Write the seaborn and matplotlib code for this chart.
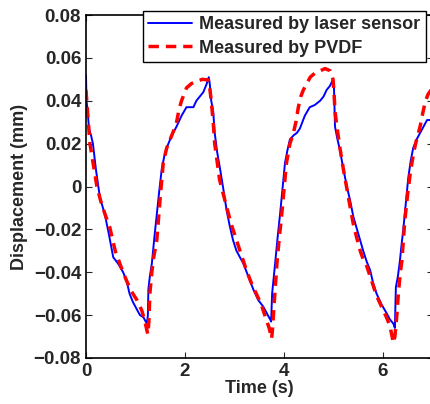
import numpy as np
import pandas as pd
import matplotlib
matplotlib.use("Agg")
import matplotlib.pyplot as plt
import matplotlib.ticker as mticker
import seaborn as sns

# --- data (time in s, displacement in mm) ---
laser_t = [0.00, 0.01, 0.03, 0.06, 0.10, 0.14, 0.20, 0.28, 0.38, 0.46, 0.55, 0.65,
           0.75, 0.82, 0.88, 0.95, 1.02, 1.09, 1.16, 1.23, 1.25, 1.26, 1.29, 1.33,
           1.38, 1.43, 1.48, 1.53, 1.58, 1.63, 1.70, 1.76, 1.83, 1.93, 2.03, 2.10,
           2.17, 2.23, 2.30, 2.37, 2.44, 2.48, 2.50, 2.53, 2.57, 2.60, 2.65, 2.71,
           2.78, 2.84, 2.90, 2.97, 3.04, 3.11, 3.18, 3.28, 3.38, 3.48, 3.58, 3.65,
           3.72, 3.74, 3.76, 3.79, 3.82, 3.87, 3.92, 3.97, 4.02, 4.07, 4.12, 4.20,
           4.26, 4.32, 4.42, 4.52, 4.62, 4.73, 4.80, 4.86, 4.93, 4.99, 5.01, 5.03,
           5.08, 5.13, 5.20, 5.27, 5.34, 5.40, 5.50, 5.60, 5.67, 5.74, 5.80, 5.87,
           5.97, 6.07, 6.14, 6.21, 6.24, 6.26, 6.30, 6.34, 6.38, 6.41, 6.46, 6.51,
           6.56, 6.61, 6.68, 6.75, 6.82, 6.89, 6.95, 7.00]
laser_d = [0.052, 0.040, 0.036, 0.027, 0.024, 0.020, 0.008, -0.005, -0.013, -0.022, -0.033, -0.036,
           -0.040, -0.044, -0.050, -0.054, -0.057, -0.060, -0.061, -0.064, -0.060, -0.048, -0.042, -0.036,
           -0.024, -0.013, -0.002, 0.008, 0.014, 0.018, 0.022, 0.025, 0.028, 0.033, 0.037, 0.037,
           0.037, 0.040, 0.042, 0.044, 0.048, 0.051, 0.048, 0.040, 0.035, 0.025, 0.016, 0.008,
           -0.002, -0.011, -0.018, -0.025, -0.030, -0.033, -0.036, -0.042, -0.048, -0.053, -0.056, -0.059,
           -0.062, -0.063, -0.050, -0.043, -0.036, -0.024, -0.013, -0.001, 0.011, 0.017, 0.022, 0.024,
           0.025, 0.027, 0.033, 0.037, 0.038, 0.040, 0.042, 0.045, 0.047, 0.050, 0.046, 0.028,
           0.022, 0.017, 0.008, 0.000, -0.007, -0.014, -0.022, -0.030, -0.035, -0.039, -0.045, -0.050,
           -0.055, -0.059, -0.062, -0.064, -0.066, -0.047, -0.042, -0.035, -0.026, -0.020, -0.008, 0.004,
           0.012, 0.018, 0.022, 0.025, 0.028, 0.031, 0.031, 0.032]

pvdf_t = [0.00, 0.04, 0.08, 0.15, 0.22, 0.30, 0.40, 0.48, 0.59, 0.70, 0.82, 0.92,
          1.03, 1.13, 1.20, 1.25, 1.27, 1.29, 1.33, 1.36, 1.43, 1.50, 1.56, 1.63,
          1.70, 1.77, 1.83, 1.88, 1.93, 2.03, 2.13, 2.23, 2.35, 2.47, 2.50, 2.53,
          2.57, 2.60, 2.70, 2.84, 2.94, 3.04, 3.14, 3.24, 3.34, 3.44, 3.54, 3.64,
          3.70, 3.75, 3.77, 3.80, 3.83, 3.86, 3.90, 3.95, 4.05, 4.12, 4.19, 4.24,
          4.29, 4.34, 4.39, 4.46, 4.53, 4.63, 4.73, 4.83, 4.93, 4.99, 5.01, 5.03,
          5.08, 5.13, 5.20, 5.27, 5.34, 5.40, 5.47, 5.54, 5.60, 5.67, 5.77, 5.87,
          5.97, 6.07, 6.14, 6.21, 6.24, 6.28, 6.31, 6.35, 6.38, 6.44, 6.50, 6.55,
          6.62, 6.68, 6.75, 6.81, 6.86, 6.91, 7.00]
pvdf_d = [0.045, 0.032, 0.020, 0.010, 0.000, -0.007, -0.014, -0.019, -0.030, -0.037, -0.044, -0.049,
          -0.053, -0.058, -0.064, -0.069, -0.063, -0.050, -0.040, -0.034, -0.025, -0.005, 0.011, 0.018,
          0.022, 0.026, 0.030, 0.036, 0.040, 0.046, 0.048, 0.049, 0.050, 0.0497, 0.046, 0.040,
          0.030, 0.020, 0.003, -0.0095, -0.018, -0.025, -0.032, -0.039, -0.045, -0.050, -0.055, -0.062,
          -0.066, -0.071, -0.066, -0.055, -0.045, -0.035, -0.025, -0.014, 0.011, 0.020, 0.025, 0.030,
          0.037, 0.042, 0.045, 0.048, 0.051, 0.053, 0.054, 0.055, 0.054, 0.050, 0.044, 0.035,
          0.026, 0.018, 0.008, -0.001, -0.010, -0.0175, -0.024, -0.030, -0.034, -0.037, -0.044, -0.051,
          -0.056, -0.061, -0.065, -0.073, -0.070, -0.060, -0.050, -0.040, -0.035, -0.016, -0.003, 0.006,
          0.016, 0.022, 0.028, 0.035, 0.040, 0.043, 0.046]

x_ticks = [0, 2, 4, 6]
y_ticks = [-0.08, -0.06, -0.04, -0.02, 0, 0.02, 0.04, 0.06, 0.08]

laser = pd.DataFrame({"t": laser_t, "d": laser_d})
pvdf = pd.DataFrame({"t": pvdf_t, "d": pvdf_d})

sns.set_style("ticks")
plt.rcParams["font.family"] = ["Liberation Sans", "DejaVu Sans"]
plt.rcParams["font.weight"] = "bold"
plt.rcParams["axes.labelweight"] = "bold"

fig = plt.figure(figsize=(4.3, 4.04), dpi=100)
# plot box runs slightly past the right edge, as in the reference
ax = fig.add_axes([86 / 430, 46 / 404, 346.5 / 430, 343 / 404])

sns.lineplot(data=laser, x="t", y="d", ax=ax, color="#0000ff", linewidth=1.4,
             label="Measured by laser sensor", sort=False, estimator=None)
sns.lineplot(data=pvdf, x="t", y="d", ax=ax, color="#ff0000", linewidth=2.5,
             linestyle=(0, (3, 2)), label="Measured by PVDF", sort=False, estimator=None)

ax.set_xlim(0, 7)
ax.set_ylim(-0.08, 0.08)
ax.set_xticks(x_ticks)
ax.set_yticks(y_ticks)
ax.yaxis.set_major_formatter(mticker.FuncFormatter(lambda v, p: f"{v:g}".replace("-", "\u2212")))
ax.xaxis.set_major_formatter(mticker.FuncFormatter(lambda v, p: f"{v:g}"))
ax.tick_params(direction="in", length=4, width=0.8, labelsize=13.5, top=True, right=True)
for lbl in ax.get_xticklabels() + ax.get_yticklabels():
    lbl.set_fontweight("bold")
for s in ax.spines.values():
    s.set_linewidth(1.2)
    s.set_color("black")

ax.set_xlabel("Time (s)", fontsize=13, fontweight="bold", labelpad=0)
ax.set_ylabel("Displacement (mm)", fontsize=13, fontweight="bold", labelpad=4)

leg = ax.legend(loc="upper left", bbox_to_anchor=(143 / 430, 1 - 11 / 404),
                bbox_transform=fig.transFigure, frameon=True, fancybox=False,
                edgecolor="black", framealpha=1, fontsize=13, handlelength=2.4,
                handletextpad=0.4, borderpad=0.3, labelspacing=0.35, borderaxespad=0)
leg.get_frame().set_linewidth(1.0)
for t in leg.get_texts():
    t.set_fontweight("bold")

fig.savefig("out.png", dpi=100)
